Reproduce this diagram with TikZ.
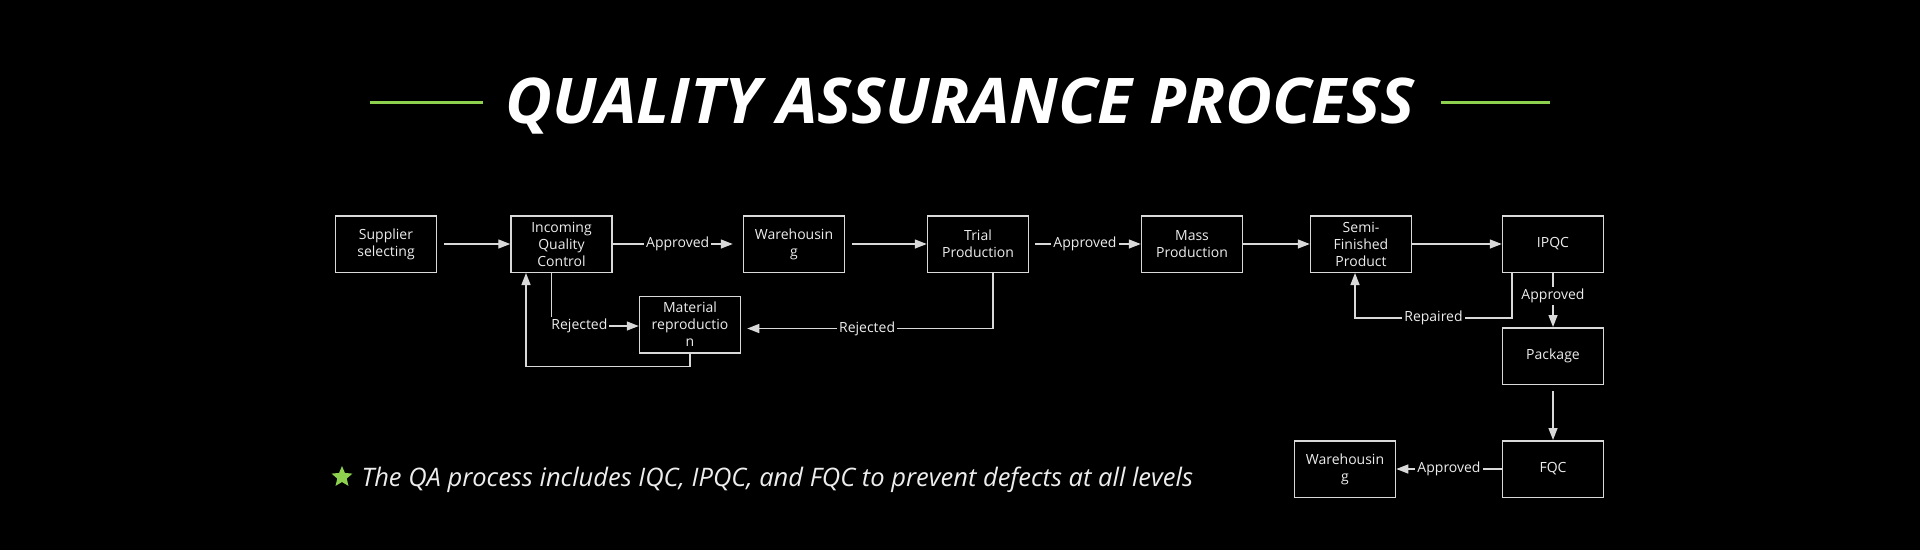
\documentclass[tikz,border=0pt]{standalone}
\usepackage{fontspec}
\setmainfont{Open Sans}
\usepackage{xcolor}
\usetikzlibrary{positioning, arrows.meta, shapes.geometric}
\definecolor{qagreen}{HTML}{8DD14F}
\definecolor{linegray}{HTML}{D9D9D9}
\definecolor{txtwhite}{HTML}{EDEDED}

\begin{document}
\begin{tikzpicture}[x=1pt, y=-1pt, on grid,
        box/.style={draw=linegray, line width=1.5pt, minimum width=101pt, minimum height=56.5pt,
            align=center, text=txtwhite, font=\fontsize{14}{17}\selectfont, inner sep=1pt},
        lbl/.style={fill=black, inner sep=2pt, text=txtwhite, font=\fontsize{14}{17}\selectfont},
        flow/.style={draw=linegray, line width=1.4pt, -{Triangle[length=12pt, width=9pt, fill=linegray]}}]
        \fill[black] (0,0) rectangle (1920,550);
        \useasboundingbox (0,0) rectangle (1920,550);

        % title
        \node[anchor=base, text=white, font=\fontsize{63}{70}\selectfont\bfseries\itshape] (title) at (960,123)
            {\scalebox{1.02}[1]{QUALITY ASSURANCE PROCESS}};
        \draw[qagreen, line width=3pt] (370,102) -- (483,102);
        \draw[qagreen, line width=3pt] (1441,102) -- (1550,102);

        % process boxes
        \node[box] (sup) at (386,244) {Supplier\\selecting};
        \node[box] (iqc) [right=175.5pt of sup] {Incoming\\Quality\\Control};
        \node[box] (wh) [right=232.5pt of iqc] {Warehousin\\g};
        \node[box] (trial) [right=184pt of wh] {Trial\\Production};
        \node[box] (mass) [right=214pt of trial] {Mass\\Production};
        \node[box] (semi) [right=169pt of mass] {Semi-\\Finished\\Product};
        \node[box] (ipqc) [right=192pt of semi] {IPQC};
        \node[box] (mat) [below right=80.5pt and 128.5pt of iqc] {Material\\reproductio\\n};
        \node[box] (pkg) [below=112pt of ipqc] {Package};
        \node[box] (fqc) [below=113pt of pkg] {FQC};
        \node[box] (wh2) [left=208pt of fqc] {Warehousin\\g};

        \path[flow]
        (sup) edge [shorten <=7pt] (iqc)
        (iqc) edge [shorten >=10pt] node[lbl] {Approved} (wh)
        (wh) edge [shorten <=7pt] (trial)
        (trial) edge [shorten <=6pt] node[lbl] {Approved} (mass)
        (mass) edge (semi)
        (semi) edge (ipqc)
        (ipqc) edge node[lbl, pos=0.42] {Approved} (pkg)
        (pkg) edge [shorten <=6pt] (fqc)
        (fqc) edge node[lbl] {Approved} (wh2);

        % loops back
        \draw[flow] ([xshift=-10pt]iqc.south) |- node[lbl, pos=0.66] {Rejected} ([yshift=-1.5pt]mat.west);
        \draw[flow, shorten >=6pt] ([xshift=15pt]trial.south) |- node[lbl, pos=0.75] {Rejected} ([yshift=-4pt]mat.east);
        \draw[flow] (mat.south) -- ++(0,13) -| ([xshift=-35.5pt]iqc.south);
        \draw[flow] ([xshift=-41pt]ipqc.south) -- ++(0,45) -| node[lbl, pos=0.25] {Repaired} ([xshift=-6pt]semi.south);

        % note
        \node[star, star points=5, star point ratio=2.2, fill=qagreen, minimum size=22pt, inner sep=0pt] (mark) at (342,477) {};
        \node[anchor=base west, text=txtwhite, font=\fontsize{25.5}{30}\selectfont\itshape] (note) at (358,486)
            {The QA process includes IQC, IPQC, and FQC to prevent defects at all levels};
\end{tikzpicture}
\end{document}
